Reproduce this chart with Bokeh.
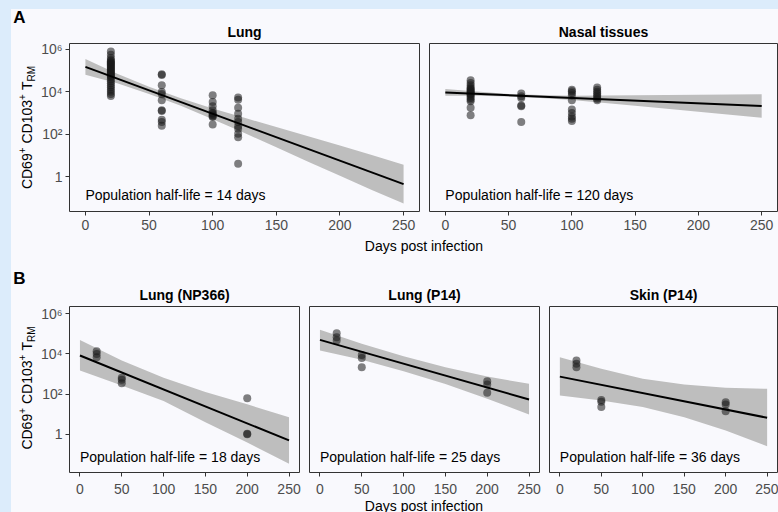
import numpy as np
from bokeh.plotting import figure
from bokeh.layouts import row, column
from bokeh.models import Range1d, FixedTicker, Spacer
from bokeh.core.properties import value
from bokeh.embed import file_html
from bokeh.resources import INLINE

FONT = "Liberation Sans"
BG = "#f9f9fd"
BLUE = "#dcecfb"
PT = "#1a1a1a"
BAND = "#bebebe"

# ---------------- data (log10 of cell numbers) ----------------
x_ticks = [0, 50, 100, 150, 200, 250]
y_ticks = [1, 100, 10000, 1000000]
y_tick_labels = ["1", "10²", "10⁴", "10⁶"]

# Panel A - Lung
lung_days = [20] * 29 + [60] * 11 + [100] * 10 + [120] * 11
lung_log = [5.9, 5.75, 5.6, 5.5, 5.45, 5.4, 5.35, 5.3, 5.25, 5.2, 5.15, 5.1, 5.05, 5.0, 4.95,
            4.9, 4.85, 4.8, 4.75, 4.7, 4.6, 4.5, 4.4, 4.3, 4.2, 4.1, 4.0, 3.9, 3.8,
            4.83, 4.8, 4.31, 3.99, 3.9, 3.6, 3.13, 3.1, 2.68, 2.58, 2.4,
            3.84, 3.52, 3.32, 3.13, 3.0, 2.97, 2.89, 2.85, 2.81, 2.46,
            3.73, 3.63, 3.25, 2.97, 2.73, 2.58, 2.37, 2.26, 2.02, 1.86, 0.6]
lung_band_x = [0, 25, 50, 75, 100, 125, 150, 175, 200, 225, 250]
lung_band_up = [5.55, 4.85, 4.24, 3.70, 3.21, 2.77, 2.34, 1.90, 1.47, 1.02, 0.56]
lung_band_lo = [4.81, 4.41, 3.90, 3.34, 2.71, 2.05, 1.38, 0.70, 0.03, -0.64, -1.28]
lung_fit = [5.18, -0.36]
lung_half_life = 14

# Panel A - Nasal tissues
nasal_days = [20] * 17 + [60] * 6 + [100] * 10 + [120] * 8
nasal_log = [4.55, 4.42, 4.31, 4.2, 4.15, 4.1, 4.04, 4.0, 3.95, 3.9, 3.87, 3.79, 3.71, 3.63, 3.55, 3.25, 2.89,
             3.92, 3.79, 3.71, 3.36, 3.32, 2.58,
             4.1, 4.03, 3.95, 3.84, 3.6, 3.16, 3.0, 2.84, 2.73, 2.62,
             4.2, 4.1, 4.0, 3.92, 3.84, 3.76, 3.67, 3.6]
nasal_band_x = [0, 25, 50, 75, 100, 150, 200, 250]
nasal_band_up = [4.13, 4.01, 3.90, 3.85, 3.81, 3.84, 3.86, 3.88]
nasal_band_lo = [3.81, 3.81, 3.78, 3.71, 3.61, 3.34, 3.06, 2.78]
nasal_fit = [3.97, 3.33]
nasal_half_life = 120

# Panel B
b_band_x = [0, 50, 100, 150, 200, 250]
np366_days = [20, 20, 20, 50, 50, 50, 200, 200, 200]
np366_log = [4.14, 4.0, 3.84, 2.81, 2.71, 2.54, 1.79, 0.02, 0.0]
np366_band_up = [4.70, 3.67, 2.81, 2.10, 1.49, 0.85]
np366_band_lo = [3.17, 2.43, 1.66, 0.60, -0.41, -1.47]
np366_fit = [3.92, -0.31]
np366_half_life = 18

p14_days = [20, 20, 20, 50, 50, 50, 200, 200, 200]
p14_log = [5.03, 4.83, 4.67, 3.95, 3.8, 3.34, 2.64, 2.48, 2.06]
p14_band_up = [5.21, 4.51, 3.88, 3.34, 2.87, 2.51]
p14_band_lo = [4.17, 3.71, 3.14, 2.50, 1.77, 0.98]
p14_fit = [4.70, 1.73]
p14_half_life = 25

skin_days = [20, 20, 20, 50, 50, 50, 200, 200, 200]
skin_log = [3.67, 3.51, 3.34, 1.71, 1.62, 1.35, 1.59, 1.48, 1.15]
skin_band_up = [3.84, 3.26, 2.76, 2.48, 2.31, 2.26]
skin_band_lo = [1.93, 1.68, 1.35, 0.85, 0.18, -0.60]
skin_fit = [2.87, 0.82]
skin_half_life = 36

fit_x = [0, 250]
X0, X1 = -12.5, 262.5

# ---------------- helpers ----------------
def pix_fig(w, h):
    f = figure(width=w, height=h, x_range=Range1d(0, w), y_range=Range1d(0, h),
               output_backend="svg", toolbar_location=None, title=None,
               x_axis_location=None, y_axis_location=None, min_border=0)
    f.grid.visible = False
    f.outline_line_color = None
    f.background_fill_color = BG
    f.border_fill_color = BG
    return f


def panel(title, w, h, yr, days, logs, bx, bup, blo, fit, hl, ann_y,
          left, right, top, bottom, show_y, tick_standoff):
    p = figure(width=w, height=h, title=title,
               x_range=Range1d(X0, X1),
               y_range=Range1d(10 ** yr[0], 10 ** yr[1]), y_axis_type="log",
               output_backend="svg", toolbar_location=None,
               min_border_left=left, min_border_right=right,
               min_border_top=top, min_border_bottom=bottom)
    p.background_fill_color = BG
    p.border_fill_color = BG
    p.outline_line_color = "#333333"
    p.outline_line_width = 1
    p.outline_line_alpha = 1
    p.grid.visible = False
    p.title.text_font = FONT
    p.title.text_font_size = "14px"
    p.title.text_font_style = "bold"
    p.title.text_color = "black"
    p.title.align = "center"
    p.title.standoff = 7

    p.varea(x=bx, y1=10 ** np.array(blo), y2=10 ** np.array(bup), fill_color=BAND, fill_alpha=1)
    p.scatter(days, 10 ** np.array(logs), size=8, fill_color=PT, fill_alpha=0.55, line_color=None)
    p.line(fit_x, 10 ** np.array(fit), line_color="black", line_width=2)
    p.text(x=[0], y=[10 ** ann_y], text=[f"Population half-life = {hl} days"],
           text_font=value(FONT), text_font_size="14px", text_align="left",
           text_baseline="middle", text_color="black")

    for ax in p.xaxis:
        ax.ticker = FixedTicker(ticks=x_ticks)
        ax.axis_line_color = None
        ax.major_tick_out = 4
        ax.major_tick_in = 0
        ax.minor_tick_line_color = None
        ax.major_tick_line_color = "#333333"
        ax.major_label_standoff = tick_standoff
        ax.major_label_text_font = FONT
        ax.major_label_text_font_size = "14px"
        ax.major_label_text_color = "#4d4d4d"
    for ax in p.yaxis:
        if not show_y:
            ax.visible = False
            continue
        ax.ticker = FixedTicker(ticks=y_ticks)
        ax.major_label_overrides = dict(zip(y_ticks, y_tick_labels))
        ax.axis_line_color = None
        ax.major_tick_out = 4
        ax.major_tick_in = 0
        ax.minor_tick_line_color = None
        ax.major_tick_line_color = "#333333"
        ax.major_label_standoff = 3
        ax.major_label_text_font = FONT
        ax.major_label_text_font_size = "14px"
        ax.major_label_text_color = "#4d4d4d"
    return p


LEFT_W = 25


def left_fig():
    # panel letters and the two rotated y-axis titles (pixel coordinates)
    f = pix_fig(LEFT_W, 503)
    f.text(x=[1.7, 1.7], y=[494.8, 233.7], text=["A", "B"], text_font=value(FONT),
           text_font_size="17px", text_font_style="bold", text_align="left",
           text_baseline="middle", text_color="black")
    main_x, sup_x, sub_x = 15.7, 10.9, 19.8
    pieces = [("CD69", 14, main_x, 35.8), ("+", 10, sup_x, 5.9 + 3.9),
              ("CD103", 14, main_x, 43.6), ("+", 10, sup_x, 5.9 + 3.9),
              ("T", 14, main_x, 8.6), ("RM", 10, sub_x, 15.6)]
    for y0 in (323.4, 62.9):
        y = y0
        for txt, fs, xx, adv in pieces:
            f.text(x=[xx], y=[y], text=[txt], angle=np.pi / 2,
                   text_font=value(FONT), text_font_size=f"{fs}px",
                   text_align="left", text_baseline="middle", text_color="black")
            y += adv
    return f


def xlab_fig(h, y):
    f = pix_fig(767 - LEFT_W, h)
    f.text(x=[423.5 - 11 - LEFT_W], y=[y], text=["Days post infection"], text_font=value(FONT),
           text_font_size="14px", text_align="center", text_baseline="middle",
           text_color="black")
    return f


# ---------------- Row A ----------------
yrA = (-1.653, 6.283)
a1 = panel("Lung", 413 - LEFT_W, 226, yrA, lung_days, lung_log, lung_band_x, lung_band_up,
           lung_band_lo, lung_fit, lung_half_life, -0.865, 58 - LEFT_W, 5, 34, 24, True, 4)
a2 = panel("Nasal tissues", 354, 226, yrA, nasal_days, nasal_log, nasal_band_x,
           nasal_band_up, nasal_band_lo, nasal_fit, nasal_half_life, -0.865, 5, 1, 34, 24, False, 4)
ax_lab = xlab_fig(21, 10.3)

# ---------------- Row B ----------------
yrB = (-1.908, 6.364)
b1 = panel("Lung (NP366)", 293 - LEFT_W, 241, yrB, np366_days, np366_log, b_band_x, np366_band_up,
           np366_band_lo, np366_fit, np366_half_life, -1.146, 58 - LEFT_W, 5, 50, 25, True, 7)
b2 = panel("Lung (P14)", 240, 241, yrB, p14_days, p14_log, b_band_x, p14_band_up,
           p14_band_lo, p14_fit, p14_half_life, -1.146, 5, 5, 50, 25, False, 7)
b3 = panel("Skin (P14)", 234, 241, yrB, skin_days, skin_log, b_band_x, skin_band_up,
           skin_band_lo, skin_fit, skin_half_life, -1.146, 5, 1, 50, 25, False, 7)
bx_lab = xlab_fig(15, 7.0)

right = column(row(a1, a2), ax_lab, row(b1, b2, b3), bx_lab)
content = row(left_fig(), right)
p = column(Spacer(width=778, height=9, styles={"background-color": BLUE}),
           row(Spacer(width=11, height=503, styles={"background-color": BLUE}), content),
           styles={"background-color": BG})

open("out.html", "w").write(file_html(p, INLINE))
